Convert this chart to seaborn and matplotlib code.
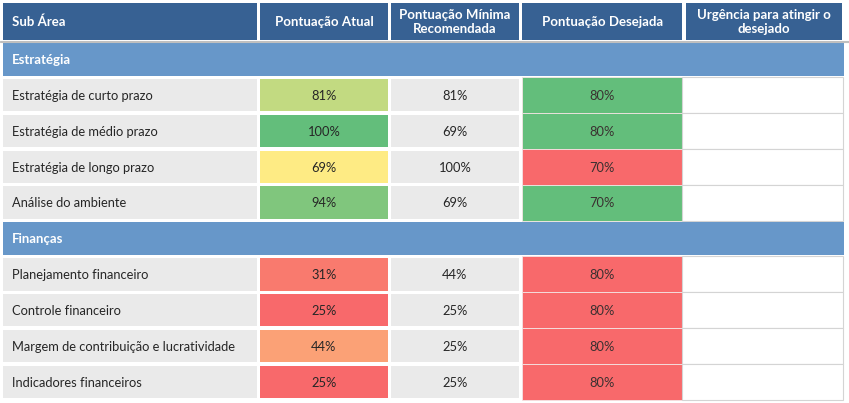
import numpy as np
import pandas as pd
import matplotlib.pyplot as plt
import matplotlib.colors as mcolors
from matplotlib.patches import Rectangle
import seaborn as sns

# --- DATA ---
headers = ["Sub Área", "Pontuação Atual", "Pontuação Mínima\nRecomendada",
           "Pontuação Desejada", "Urgência para atingir o\ndesejado"]
sections = ["Estratégia", "Finanças"]
sub_areas = ["Estratégia de curto prazo", "Estratégia de médio prazo",
             "Estratégia de longo prazo", "Análise do ambiente",
             "Planejamento financeiro", "Controle financeiro",
             "Margem de contribuição e lucratividade", "Indicadores financeiros"]
section_idx = [0, 0, 0, 0, 1, 1, 1, 1]
atual = [81, 100, 69, 94, 31, 25, 44, 25]
minima = [81, 69, 100, 69, 44, 25, 25, 25]
desejada = [80, 80, 70, 70, 80, 80, 80, 80]

df = pd.DataFrame({"sub": sub_areas, "sec": section_idx, "atual": atual,
                   "minima": minima, "desejada": desejada})
# desired score is green when already reached by the current score, red otherwise
df["atingido"] = (df["atual"] >= df["desejada"]).astype(float)

# --- STYLE / LAYOUT ---
sns.set_style("white")
plt.rcParams['font.family'] = ['Lato', 'DejaVu Sans']

HEADER_BG = "#376193"
BAND_BG = "#6797C9"
CELL_GRAY = "#EAEAEA"
TXT = "#262626"
FS = 9.3
FS_H = 9.5

# excel-like red / yellow / green colour scale
cmap = sns.blend_palette(["#F8696B", "#FFEB84", "#63BE7B"], as_cmap=True)
norm_atual = mcolors.TwoSlopeNorm(vmin=min(atual), vcenter=69, vmax=max(atual))

col_edges = [(3, 257), (260, 388), (391, 519), (522, 682.5), (682.5, 843.5)]
top0, pitch, cell_h = 43, 35.85, 32.5

fig = plt.figure(figsize=(8.49, 4.03), dpi=100)
ax = fig.add_axes([0, 0, 1, 1])
ax.set_xlim(0, 849)
ax.set_ylim(403, 0)
ax.axis("off")

# header
for (x0, x1), h in zip(col_edges, headers):
    x1h = x1 - 1 if x1 > 840 else x1
    x0h = x0 + 3.5 if x0 == 682.5 else x0
    ax.add_patch(Rectangle((x0h, 3), x1h - x0h, 37, color=HEADER_BG, lw=0))
    if h == headers[0]:
        ax.text(x0 + 9, 22, h, color="white", fontsize=FS_H, fontweight="bold",
                ha="left", va="center")
    else:
        ax.text((x0h + x1h) / 2, 22, h, color="white", fontsize=FS_H, fontweight="bold",
                ha="center", va="center", linespacing=1.15)
ax.plot([0, 849], [40.6, 40.6], color="#BFBFBF", lw=0.8)
ax.plot([0, 849], [41.8, 41.8], color="#BFBFBF", lw=0.8)

# rows: band for each section then its sub areas
slot = 0
for s, name in enumerate(sections):
    y = top0 + pitch * slot
    ax.add_patch(Rectangle((3, y), 841, cell_h + 0.5, color=BAND_BG, lw=0))
    ax.text(12, y + cell_h / 2 + 0.5, name, color="white", fontsize=FS_H, fontweight="bold",
            ha="left", va="center")
    slot += 1
    sub = df[df["sec"] == s]
    for _, r in sub.iterrows():
        y = top0 + pitch * slot
        yc = y + cell_h / 2 + 0.8
        # label
        (a, b) = col_edges[0]
        ax.add_patch(Rectangle((a, y), b - a, cell_h, color=CELL_GRAY, lw=0))
        ax.text(a + 9, yc, r["sub"], color=TXT, fontsize=FS, ha="left", va="center")
        # atual
        (a, b) = col_edges[1]
        ax.add_patch(Rectangle((a, y), b - a, cell_h, color=cmap(norm_atual(r["atual"])), lw=0))
        ax.text((a + b) / 2, yc, f"{r['atual']}%", color=TXT, fontsize=FS, ha="center", va="center")
        # minima
        (a, b) = col_edges[2]
        ax.add_patch(Rectangle((a, y), b - a, cell_h, color=CELL_GRAY, lw=0))
        ax.text((a + b) / 2, yc, f"{r['minima']}%", color=TXT, fontsize=FS, ha="center", va="center")
        # desejada (full pitch, thin light separators)
        (a, b) = col_edges[3]
        ax.add_patch(Rectangle((a, y - 1.7), b - a, pitch, facecolor=cmap(r["atingido"]),
                               edgecolor="#F4E4E4", lw=0.6))
        ax.text((a + b) / 2, yc, f"{r['desejada']}%", color="#3A3030", fontsize=FS, ha="center", va="center")
        # urgencia (empty)
        (a, b) = col_edges[4]
        ax.add_patch(Rectangle((a, y - 1.7), b - a, pitch, facecolor="white",
                               edgecolor="#D4D4D4", lw=0.8))
        slot += 1

fig.savefig("out.png", dpi=100)
